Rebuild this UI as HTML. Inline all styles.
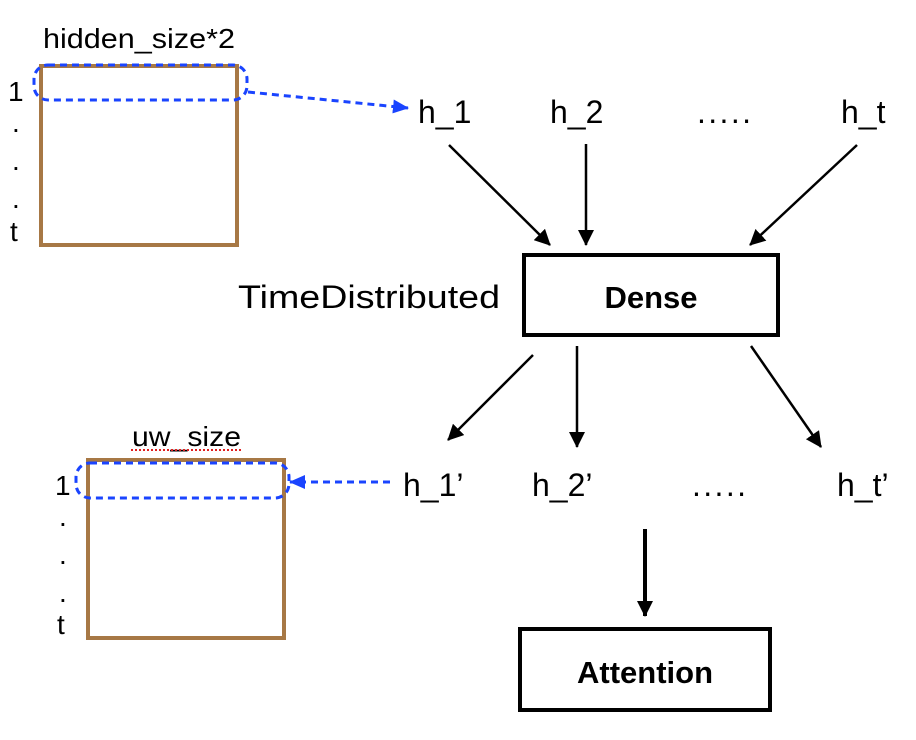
<!DOCTYPE html>
<html><head><meta charset="utf-8"><style>
html,body{margin:0;padding:0;background:#fff;width:916px;height:740px;overflow:hidden}
</style></head><body>
<svg width="916" height="740" xmlns="http://www.w3.org/2000/svg" font-family="Liberation Sans, sans-serif">
<defs>
<marker id="ab2" markerWidth="16" markerHeight="16" refX="15" refY="8" orient="auto" markerUnits="userSpaceOnUse"><path d="M0,0 L16,8 L0,16 z" fill="#000"/></marker>
<marker id="ablue" markerWidth="16" markerHeight="14" refX="15" refY="7" orient="auto" markerUnits="userSpaceOnUse"><path d="M0,0 L16,7 L0,14 z" fill="#1a44ff"/></marker>
</defs>
<!-- top matrix -->
<text x="43" y="48" font-size="28" textLength="192" lengthAdjust="spacingAndGlyphs">hidden_size*2</text>
<rect x="41" y="66" width="196" height="179" fill="none" stroke="#a77845" stroke-width="4"/>
<rect x="34" y="65" width="213" height="35" rx="14" fill="none" stroke="#1a44ff" stroke-width="3" stroke-dasharray="7,5"/>
<text x="8" y="101" font-size="28">1</text>
<text x="12" y="132" font-size="28">.</text>
<text x="12" y="170" font-size="28">.</text>
<text x="12" y="208" font-size="28">.</text>
<text x="10" y="241" font-size="28">t</text>
<line x1="248" y1="92" x2="408" y2="108" stroke="#1a44ff" stroke-width="3" stroke-dasharray="7,5" marker-end="url(#ablue)"/>
<!-- top h row -->
<text x="418" y="123" font-size="32">h_1</text>
<text x="550" y="123" font-size="32">h_2</text>
<text x="697" y="123" font-size="32" textLength="54" lengthAdjust="spacing">.....</text>
<text x="841" y="123" font-size="32">h_t</text>
<g stroke="#000" stroke-width="2.5">
<line x1="449" y1="145" x2="550" y2="245" marker-end="url(#ab2)"/>
<line x1="586" y1="144" x2="586" y2="245" marker-end="url(#ab2)"/>
<line x1="857" y1="145" x2="750" y2="245" marker-end="url(#ab2)"/>
</g>
<text x="238" y="308" font-size="32" textLength="262" lengthAdjust="spacingAndGlyphs">TimeDistributed</text>
<rect x="524" y="255" width="254" height="80" fill="none" stroke="#000" stroke-width="4"/>
<text x="651" y="308" font-size="31" font-weight="bold" text-anchor="middle">Dense</text>
<g stroke="#000" stroke-width="2.5">
<line x1="533" y1="355" x2="448" y2="440" marker-end="url(#ab2)"/>
<line x1="577" y1="346" x2="577" y2="447" marker-end="url(#ab2)"/>
<line x1="751" y1="346" x2="821" y2="447" marker-end="url(#ab2)"/>
</g>
<!-- bottom h row -->
<text x="403" y="496" font-size="32">h_1’</text>
<text x="532" y="496" font-size="32">h_2’</text>
<text x="692" y="496" font-size="32" textLength="54" lengthAdjust="spacing">.....</text>
<text x="837" y="496" font-size="32">h_t’</text>
<line x1="645" y1="529" x2="645" y2="616" stroke="#000" stroke-width="4" marker-end="url(#ab2)"/>
<rect x="520" y="629" width="250" height="81" fill="none" stroke="#000" stroke-width="4"/>
<text x="645" y="683" font-size="31" font-weight="bold" text-anchor="middle">Attention</text>
<!-- bottom matrix -->
<text x="132" y="446" font-size="28" textLength="109" lengthAdjust="spacingAndGlyphs">uw_size</text>
<line x1="131" y1="450" x2="241" y2="450" stroke="#e02020" stroke-width="2" stroke-dasharray="2,2"/>
<rect x="88" y="460" width="196" height="178" fill="none" stroke="#a77845" stroke-width="4"/>
<rect x="76" y="463" width="213" height="35" rx="14" fill="none" stroke="#1a44ff" stroke-width="3" stroke-dasharray="7,5"/>
<text x="55" y="495" font-size="28">1</text>
<text x="59" y="526" font-size="28">.</text>
<text x="59" y="564" font-size="28">.</text>
<text x="59" y="602" font-size="28">.</text>
<text x="57" y="634" font-size="28">t</text>
<line x1="390" y1="482" x2="290" y2="482" stroke="#1a44ff" stroke-width="3" stroke-dasharray="7,5" marker-end="url(#ablue)"/>
</svg>
</body></html>
